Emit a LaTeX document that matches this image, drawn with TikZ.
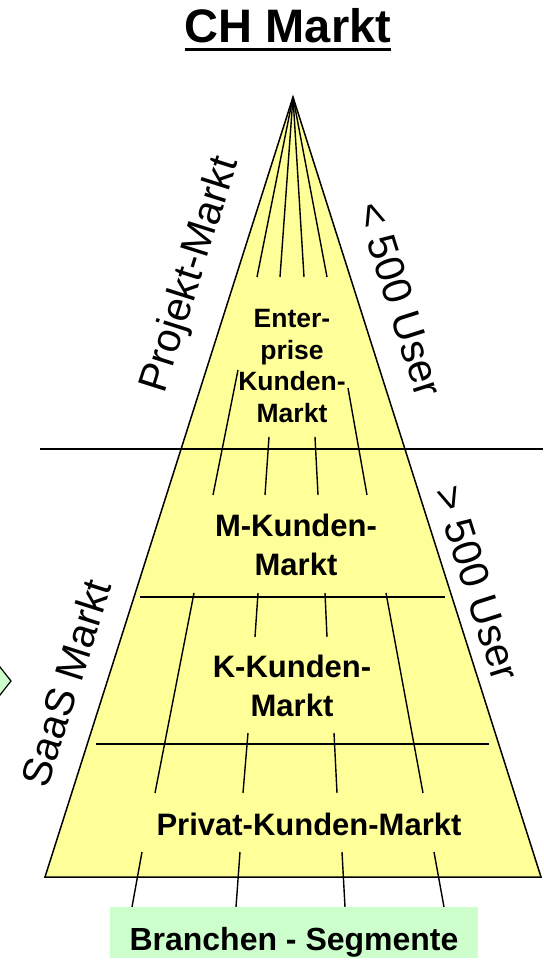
\documentclass[tikz,border=0pt]{standalone}
\usepackage{fontspec}
\setmainfont{Liberation Sans}
\usepackage{tikz}
\definecolor{pyryellow}{HTML}{FFFF99}
\definecolor{segreen}{HTML}{CCFFCC}

\begin{document}
\begin{tikzpicture}[
    x=1pt, y=-1pt,
    pyramid/.style={draw, line width=1.5pt, fill=pyryellow},
    seg/.style={line width=1.4pt},
    rim/.style={font=\fontsize{41}{49}\selectfont, inner sep=0pt},
    market/.style={font=\bfseries\fontsize{31}{38.5}\selectfont, align=center, inner sep=0pt},
    segbox/.style={fill=segreen, font=\bfseries\fontsize{32}{38}\selectfont, minimum width=368pt, inner sep=0pt, text height=43pt, text depth=8pt}
]
\useasboundingbox (0,0) rectangle (543,960);

\coordinate (apex) at (293,97);
\coordinate (bl) at (45,877);
\coordinate (br) at (541,877);
\draw[pyramid] (apex) -- (bl) -- (br) -- cycle;

\draw[line width=1.2pt, fill=segreen] (-12,681) -- (0,667) -- (11,681) -- (0,695) -- cycle;

% segment lines
\foreach \x in {257,280,304,327}
    \draw[seg] (apex) -- (\x,277);
\foreach \xa/\ya/\xb/\yb in {238/370/213/495, 269/437/265/495, 315/437/318/495, 348/388/367/495,
                            194/593/155/793, 258/593/255/637, 325/593/327/637, 386/593/423/793,
                            248/733/243/793, 334/733/337/793,
                            142/852/132/907, 240/852/236/907, 342/852/345/907, 434/852/444/907}
    \draw[seg] (\xa,\ya) -- (\xb,\yb);

\draw[seg] (40,449) -- (543,449);
\draw[seg] (140,597) -- (445,597);
\draw[seg] (96,744) -- (489,744);

\node[font=\bfseries\fontsize{47}{56}\selectfont, inner sep=0pt, anchor=base] (title) at (288,43) {CH Markt};
\draw[line width=3pt] ([yshift=-7pt]title.base west) -- ([yshift=-7pt]title.base east);

\node[rim, rotate=72.4] (projekt) at (191,275) {Projekt-Markt};
\node[rim, rotate=72.4] (saas) at (66,683) {SaaS Markt};
\node[rim, rotate=-72.4] (lt500) at (400,299) {< 500 User};
\node[rim, rotate=-72.4] (gt500) at (477,583) {> 500 User};

\node[market, font=\bfseries\fontsize{26.5}{31.7}\selectfont] (enterprise) at (292,366) {Enter-\\prise\\Kunden-\\Markt};
\node[market] (mkunden) at (296,545) {M-Kunden-\\Markt};
\node[market] (kkunden) at (292,686) {K-Kunden-\\Markt};
\node[market, anchor=base] (privat) at (309,835) {Privat-Kunden-Markt};
\node[segbox, anchor=base] (branchen) at (294,950) {Branchen - Segmente};
\end{tikzpicture}
\end{document}
